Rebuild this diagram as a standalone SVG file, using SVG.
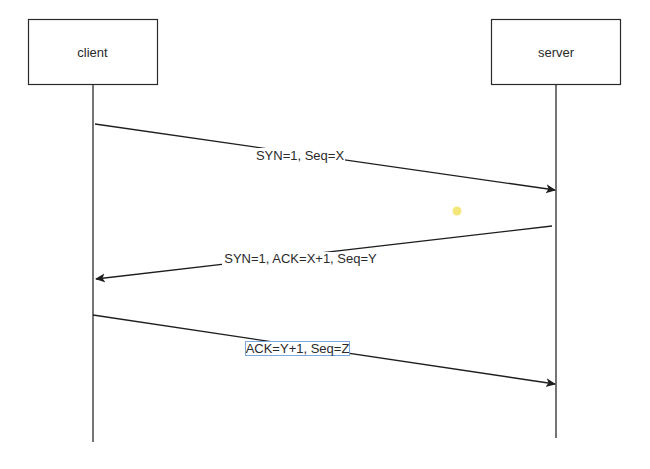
<svg xmlns="http://www.w3.org/2000/svg" width="650" height="469" viewBox="0 0 650 469">
<defs>
<style>
.box{fill:#ffffff;stroke:#2a2a2a;stroke-width:1.2}
.life{stroke:#2a2a2a;stroke-width:1.3;fill:none}
.msg{stroke:#1e1e1e;stroke-width:1.3;fill:none;marker-end:url(#arr)}
.t{font-family:"Liberation Sans",Arial,sans-serif;font-size:13px;fill:#2a2a2a}
.lbg{fill:#ffffff}
</style>
<marker id="arr" viewBox="0 0 10 10" refX="9" refY="5" markerWidth="10" markerHeight="10" markerUnits="userSpaceOnUse" orient="auto">
<path d="M0,0.5 L10,5 L0,9.5 L2.5,5 Z" fill="#1e1e1e"/>
</marker>
</defs>
<rect width="650" height="469" fill="#ffffff"/>
<g id="client">
<rect class="box" x="28.5" y="19.5" width="129" height="65"/>
<text class="t" x="92.5" y="57" text-anchor="middle">client</text>
<line class="life" x1="93" y1="84.5" x2="93" y2="442"/>
</g>
<g id="server">
<rect class="box" x="491.5" y="19.5" width="129" height="65"/>
<text class="t" x="556" y="57" text-anchor="middle">server</text>
<line class="life" x1="556" y1="84.5" x2="556" y2="438"/>
</g>
<g id="connectors">
<g id="msg1">
<line class="msg" x1="95" y1="124" x2="555" y2="190"/>
<rect class="lbg" x="256" y="148" width="89" height="15"/>
<text class="t" x="300" y="159.5" text-anchor="middle">SYN=1, Seq=X</text>
</g>
<g id="msg2">
<line class="msg" x1="552" y1="226" x2="96" y2="279"/>
<rect class="lbg" x="222" y="252" width="157" height="15"/>
<text class="t" x="300.5" y="263" text-anchor="middle">SYN=1, ACK=X+1, Seq=Y</text>
</g>
<g id="msg3">
<line class="msg" x1="93" y1="315" x2="555" y2="384"/>
<rect x="245.5" y="341.5" width="104" height="14" fill="#ffffff" stroke="#7fa7df" stroke-width="1"/>
<text class="t" x="297.5" y="353" text-anchor="middle">ACK=Y+1, Seq=Z</text>
</g>
</g>
<circle cx="457" cy="211" r="4.5" fill="#f3e46a" opacity="0.9"/>
</svg>
